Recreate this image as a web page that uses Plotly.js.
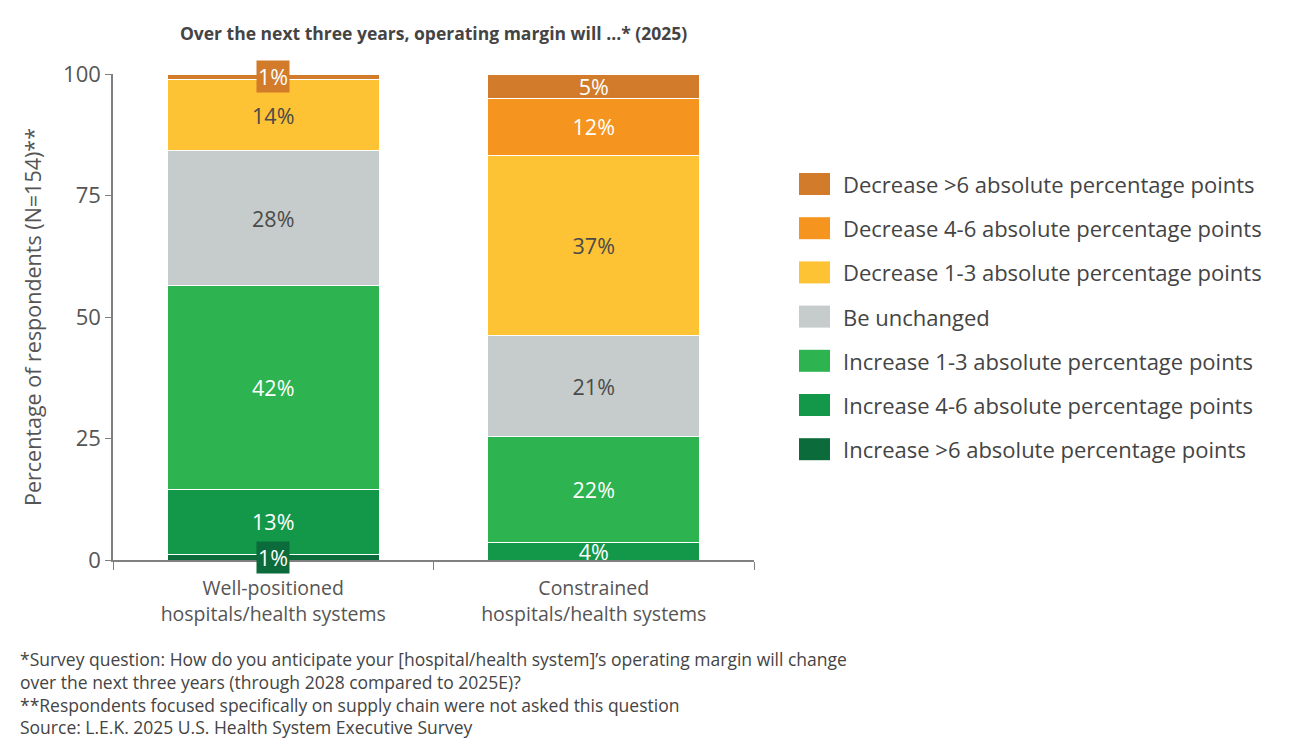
<!DOCTYPE html>
<html>
<head>
<meta charset="utf-8">
<script src="https://cdn.plot.ly/plotly-3.0.1.min.js"></script>
<style>html,body{margin:0;padding:0;background:#fff;}#chart{width:1300px;height:748px;}</style>
</head>
<body>
<div id="chart"></div>
<script>
const categories = ["Well-positioned<br>hospitals/health systems", "Constrained<br>hospitals/health systems"];
const seriesNames = [
  "Increase >6 absolute percentage points",
  "Increase 4-6 absolute percentage points",
  "Increase 1-3 absolute percentage points",
  "Be unchanged",
  "Decrease 1-3 absolute percentage points",
  "Decrease 4-6 absolute percentage points",
  "Decrease >6 absolute percentage points"
];
const increaseOver6 = [1.2, 0];
const increase4to6 = [13.3, 3.7];
const increase1to3 = [41.9, 21.8];
const unchanged = [27.8, 20.6];
const decrease1to3 = [14.6, 37.2];
const decrease4to6 = [0, 11.6];
const decreaseOver6 = [1.2, 5.1];

const labelIncreaseOver6 = ["1%", ""];
const labelIncrease4to6 = ["13%", "4%"];
const labelIncrease1to3 = ["42%", "22%"];
const labelUnchanged = ["28%", "21%"];
const labelDecrease1to3 = ["14%", "37%"];
const labelDecrease4to6 = ["", "12%"];
const labelDecreaseOver6 = ["1%", "5%"];

const colors = ["#0B6B3A", "#13984A", "#2DB34F", "#C6CCCB", "#FDC335", "#F5951F", "#D17B2B"];
const textColors = ["#ffffff", "#ffffff", "#ffffff", "#4a4a4a", "#4a4a4a", "#ffffff", "#ffffff"];

const values = [increaseOver6, increase4to6, increase1to3, unchanged, decrease1to3, decrease4to6, decreaseOver6];
const labels = [labelIncreaseOver6, labelIncrease4to6, labelIncrease1to3, labelUnchanged, labelDecrease1to3, labelDecrease4to6, labelDecreaseOver6];

const footnotes = [
  "*Survey question: How do you anticipate your [hospital/health system]’s operating margin will change",
  "over the next three years (through 2028 compared to 2025E)?",
  "**Respondents focused specifically on supply chain were not asked this question",
  "Source: L.E.K. 2025 U.S. Health System Executive Survey"
];

const FONT = "'Open Sans', Lato, sans-serif";
const SMALL = 3;

// plot-area geometry (pixels) used to place the custom legend in paper coords
const W = 1300, H = 748, ML = 113, MR = 546, MT = 74, MB = 188;
const PW = W - ML - MR, PH = H - MT - MB;
const px = v => (v - ML) / PW;
const py = v => (H - MB - v) / PH;

const traces = [];
const annotations = [];
const shapes = [];
const cum = [0, 0];
values.forEach((vals, i) => {
  const txt = vals.map((v, j) => (v >= SMALL ? labels[i][j] : ""));
  traces.push({
    type: "bar",
    name: seriesNames[i],
    x: categories,
    y: vals,
    text: txt,
    textposition: "inside",
    insidetextanchor: "middle",
    textangle: 0,
    constraintext: "none",
    textfont: {family: FONT, size: 21.5, color: textColors[i]},
    marker: {color: colors[i], line: {color: "#ffffff", width: 1}},
    showlegend: false,
    hoverinfo: "name+y"
  });
  vals.forEach((v, j) => {
    if (v > 0 && v < SMALL && labels[i][j]) {
      annotations.push({
        x: categories[j], y: cum[j] + v / 2, xref: "x", yref: "y",
        text: labels[i][j], showarrow: false,
        bgcolor: colors[i], borderpad: 1,
        font: {family: FONT, size: 21.5, color: textColors[i]}
      });
    }
    cum[j] += v;
  });
});

// custom legend (top = last series)
const LEG_TOP = 184, LEG_STEP = 44.2;
for (let k = 0; k < seriesNames.length; k++) {
  const i = seriesNames.length - 1 - k;
  const cy = LEG_TOP + k * LEG_STEP;
  shapes.push({
    type: "rect", xref: "paper", yref: "paper",
    x0: px(799), x1: px(830), y0: py(cy - 11), y1: py(cy + 11),
    fillcolor: colors[i], line: {width: 0}
  });
  annotations.push({
    xref: "paper", yref: "paper", x: px(841), y: py(cy), xanchor: "left", yanchor: "middle",
    showarrow: false, text: seriesNames[i],
    font: {family: FONT, size: 22, color: "#444"}
  });
}

annotations.push({
  xref: "paper", yref: "paper", x: px(18), y: py(645), xanchor: "left", yanchor: "top",
  align: "left", showarrow: false, text: footnotes.join("<br>"),
  font: {family: FONT, size: 17.5, color: "#444"}
});

const layout = {
  width: W, height: H,
  paper_bgcolor: "#ffffff", plot_bgcolor: "#ffffff",
  barmode: "stack", bargap: 0.34,
  margin: {l: ML, r: MR, t: MT, b: MB},
  font: {family: FONT, color: "#555"},
  title: {
    text: "<b>Over the next three years, operating margin will ...* (2025)</b>",
    font: {family: FONT, size: 17.5, color: "#444"},
    x: 0.5, xref: "paper", xanchor: "center", y: 1 - 34 / H, yanchor: "middle"
  },
  xaxis: {
    range: [-0.5, 1.5], showline: true, linecolor: "#808080", linewidth: 1.5,
    ticks: "outside", tickson: "boundaries", ticklen: 8, tickcolor: "#808080",
    ticklabelstandoff: 10,
    tickfont: {family: FONT, size: 19.5, color: "#555"}, showgrid: false, zeroline: false,
    fixedrange: true
  },
  yaxis: {
    range: [0, 100], tickvals: [0, 25, 50, 75, 100], showline: true, linecolor: "#808080", linewidth: 1.5,
    ticks: "outside", ticklen: 6, tickcolor: "#808080", showgrid: false, zeroline: false,
    tickfont: {family: FONT, size: 22, color: "#555"},
    title: {text: "Percentage of respondents (N=154)**", font: {family: FONT, size: 21.5, color: "#555"}, standoff: 16},
    fixedrange: true
  },
  shapes: shapes,
  annotations: annotations,
  showlegend: false
};

Plotly.newPlot("chart", traces, layout, {displayModeBar: false, responsive: false});
</script>
</body>
</html>
